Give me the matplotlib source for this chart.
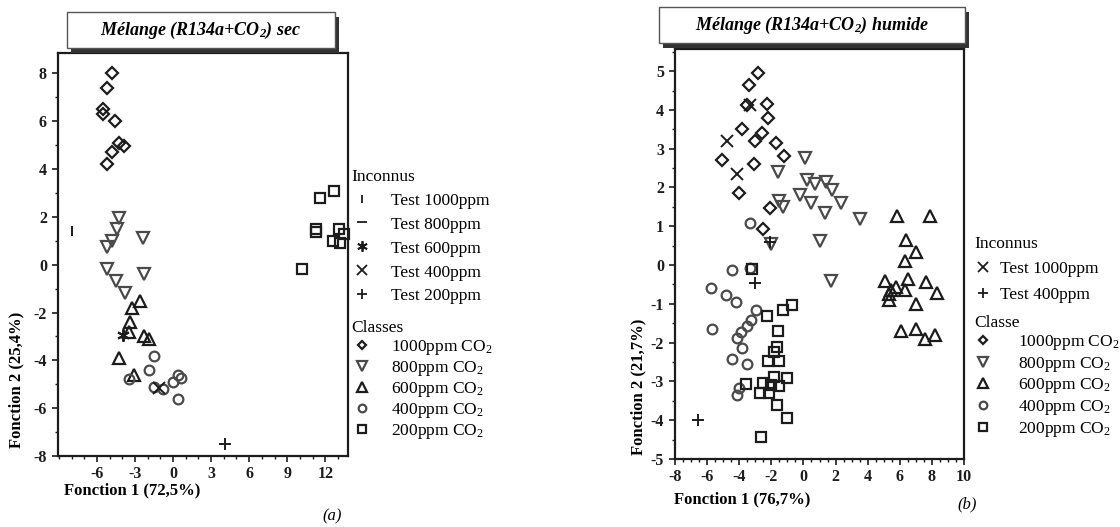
import matplotlib
matplotlib.use('Agg')
import matplotlib.pyplot as plt
from matplotlib.lines import Line2D
from matplotlib.patches import Rectangle
from matplotlib.ticker import MultipleLocator, FixedLocator

plt.rcParams['font.family'] = ['Liberation Serif', 'DejaVu Serif']
plt.rcParams['mathtext.fontset'] = 'custom'
plt.rcParams['mathtext.rm'] = 'Liberation Serif'
plt.rcParams['mathtext.it'] = 'Liberation Serif:italic'
plt.rcParams['mathtext.bf'] = 'Liberation Serif:bold'
plt.rcParams['axes.unicode_minus'] = False

# ---- (a) dry mixture ----
sec_1000_x = [-4.8, -5.2, -5.5, -5.5, -4.6, -4.3, -3.9, -4.8, -5.2]
sec_1000_y = [8.0, 7.4, 6.5, 6.3, 6.0, 5.1, 4.95, 4.7, 4.2]
sec_800_x = [-4.3, -4.4, -4.8, -5.2, -2.4, -5.2, -4.5, -3.8, -2.3]
sec_800_y = [1.95, 1.5, 1.0, 0.75, 1.1, -0.2, -0.7, -1.2, -0.4]
sec_600_x = [-2.6, -3.2, -3.4, -3.5, -2.3, -1.9, -4.3, -3.1]
sec_600_y = [-1.5, -1.8, -2.4, -2.8, -3.0, -3.1, -3.9, -4.6]
sec_400_x = [-1.5, -1.9, -3.5, -1.5, -0.8, 0.0, 0.4, 0.6, 0.4]
sec_400_y = [-3.8, -4.4, -4.8, -5.1, -5.2, -4.9, -4.6, -4.75, -5.6]
sec_200_x = [11.6, 12.7, 11.3, 11.3, 13.1, 13.5, 12.6, 13.2, 10.2]
sec_200_y = [2.8, 3.1, 1.5, 1.35, 1.5, 1.3, 1.0, 0.9, -0.2]
sec_test1000 = ([-7.95], [1.4])
sec_test800 = ([], [])
sec_test600 = ([-3.95], [-2.95])
sec_test400 = ([-1.1], [-5.15])
sec_test200 = ([4.1], [-7.5])
sec_xticks = [-6, -3, 0, 3, 6, 9, 12]

# ---- (b) humid mixture ----
hum_1000_x = [-2.85, -3.4, -3.5, -2.3, -2.2, -3.8, -2.6, -3.0, -1.7, -1.2, -5.05, -3.1, -4.0, -2.1, -2.5]
hum_1000_y = [4.95, 4.64, 4.12, 4.15, 3.8, 3.5, 3.4, 3.2, 3.15, 2.8, 2.7, 2.6, 1.85, 1.47, 0.92]
hum_800_x = [0.1, -1.6, 0.2, 0.75, 1.4, 1.8, 2.35, -0.2, 0.5, 1.35, 3.5, -1.55, -1.3, -2.0, 1.0, 1.7]
hum_800_y = [2.75, 2.4, 2.2, 2.1, 2.13, 1.93, 1.6, 1.8, 1.6, 1.35, 1.18, 1.66, 1.5, 0.54, 0.62, -0.41]
hum_600_x = [5.8, 7.9, 6.4, 7.0, 6.3, 5.1, 6.5, 5.45, 5.75, 6.35, 5.35, 7.65, 8.3, 5.35, 7.0, 6.05, 7.0, 7.6, 8.2]
hum_600_y = [1.27, 1.27, 0.64, 0.34, 0.1, -0.4, -0.37, -0.63, -0.57, -0.63, -0.74, -0.44, -0.72, -0.9, -1.0, -1.71, -1.64, -1.9, -1.81]
hum_400_x = [-3.3, -4.45, -5.75, -4.8, -4.2, -2.95, -3.25, -3.5, -3.9, -5.7, -4.15, -3.85, -4.45, -3.5, -4.0, -4.15, -3.3]
hum_400_y = [1.09, -0.13, -0.6, -0.78, -0.95, -1.17, -1.42, -1.58, -1.73, -1.66, -1.87, -2.14, -2.42, -2.56, -3.16, -3.34, -0.07]
hum_200_x = [-3.2, -2.3, -1.25, -0.7, -1.6, -1.65, -1.85, -2.2, -1.55, -3.6, -2.55, -1.85, -1.0, -1.5, -2.7, -2.15, -2.0, -1.65, -1.05, -2.65]
hum_200_y = [-0.11, -1.32, -1.15, -1.04, -1.71, -2.1, -2.23, -2.47, -2.47, -3.06, -3.03, -2.88, -2.9, -3.13, -3.3, -3.3, -3.1, -3.62, -3.95, -4.43]
hum_test1000 = ([-4.75, -4.15, -3.3], [3.2, 2.36, 4.12])
hum_test400 = ([-3.0, -6.55, -2.1], [-0.47, -3.99, 0.6])

DARK = '#1c1c1c'
GREY = '#4a4a4a'

asterisk = (6, 2, 0)

class_style = {
    '1000': dict(marker='D', ms=6, color=DARK),
    '800': dict(marker='v', ms=8, color=GREY),
    '600': dict(marker='^', ms=8, color=DARK),
    '400': dict(marker='o', ms=7, color=GREY),
    '200': dict(marker='s', ms=7, color=DARK),
}


def draw_classes(ax, series):
    handles = []
    for key, xs, ys in series:
        st = class_style[key]
        ax.plot(xs, ys, ls='none', marker=st['marker'], ms=st['ms'], mfc='none',
                mec=st['color'], mew=1.6, clip_on=False)
        handles.append(Line2D([], [], ls='none', marker=st['marker'], ms=st['ms'] - 1.5,
                              mfc='none', mec=st['color'], mew=1.6,
                              label=key + r'ppm CO$_\mathregular{2}$'))
    return handles


def style_axes(ax, xmin, ymaj, ymin):
    for s in ax.spines.values():
        s.set_linewidth(1.6)
        s.set_color(DARK)
    ax.xaxis.set_minor_locator(MultipleLocator(xmin))
    ax.yaxis.set_major_locator(MultipleLocator(ymaj))
    ax.yaxis.set_minor_locator(MultipleLocator(ymin))
    ax.tick_params(which='major', direction='out', length=4.5, width=1.2, labelsize=11.5, colors=DARK)
    ax.tick_params(which='minor', direction='out', length=2.5, width=1.0, colors=DARK)
    ax.tick_params(axis='x', which='major', pad=2.5)
    for lab in ax.get_xticklabels() + ax.get_yticklabels():
        lab.set_fontweight('bold')


def title_box(fig, x0, y0, w, h, text):
    fig.add_artist(Rectangle((x0 + 0.004, y0 - 0.009), w, h, transform=fig.transFigure,
                             facecolor='#333333', edgecolor='none'))
    fig.add_artist(Rectangle((x0, y0), w, h, transform=fig.transFigure,
                             facecolor='white', edgecolor='#555555', lw=1.0))
    fig.text(x0 + w / 2, y0 + h / 2, text, ha='center', va='center',
             fontsize=13, fontweight='bold', fontstyle='italic')


def group_legend(fig, handles, title, x, y, spacing, hlen, pad):
    leg = fig.legend(handles=handles, title=title, loc='upper left', bbox_to_anchor=(x, y),
                     frameon=False, fontsize=12.5, title_fontsize=12.5, borderpad=0,
                     borderaxespad=0, labelspacing=spacing, handlelength=hlen,
                     handletextpad=pad, alignment='left')
    return leg


fig = plt.figure(figsize=(11.2, 5.27), dpi=100)
fig.patch.set_facecolor('white')

# ---------- panel (a) ----------
ax1 = fig.add_axes([0.0518, 0.1347, 0.259, 0.7647])
ax1.set_xlim(-9.07, 13.8)
ax1.set_ylim(-8, 8.85)
ax1.xaxis.set_major_locator(FixedLocator(sec_xticks))
style_axes(ax1, 1, 2, 1)
cls1 = draw_classes(ax1, [('1000', sec_1000_x, sec_1000_y), ('800', sec_800_x, sec_800_y),
                          ('600', sec_600_x, sec_600_y), ('400', sec_400_x, sec_400_y),
                          ('200', sec_200_x, sec_200_y)])
unk1 = []
for (xs, ys), mk, lab, ms in [(sec_test1000, '|', 'Test 1000ppm', 7), (sec_test800, '_', 'Test 800ppm', 9),
                              (sec_test600, asterisk, 'Test 600ppm', 9), (sec_test400, 'x', 'Test 400ppm', 8),
                              (sec_test200, '+', 'Test 200ppm', 8)]:
    ax1.plot(xs, ys, ls='none', marker=mk, ms=ms, color=DARK, mew=1.4)
    unk1.append(Line2D([], [], ls='none', marker=mk, ms=ms - 1.5, color=DARK, mew=1.3, label=lab))
ax1.set_xlabel('Fonction 1 (72,5%)', fontsize=12, fontweight='bold')
ax1.set_ylabel('Fonction 2 (25,4%)', fontsize=12, fontweight='bold')
ax1.xaxis.set_label_coords(0.255, -0.066)
ax1.yaxis.set_label_coords(-0.115, 0.19)
title_box(fig, 0.0598, 0.9089, 0.239, 0.0683, r'Mélange (R134a+CO$_\mathregular{2}$) sec')
group_legend(fig, unk1, 'Inconnus', 0.3135, 0.680, 0.45, 1.3, 1.0)
group_legend(fig, cls1, 'Classes', 0.3135, 0.393, 0.12, 1.3, 1.0)
fig.text(0.288, 0.012, '(a)', fontsize=12, fontstyle='italic')

# ---------- panel (b) ----------
ax2 = fig.add_axes([0.6027, 0.129, 0.258, 0.778])
ax2.set_xlim(-8, 10)
ax2.set_ylim(-5, 5.57)
ax2.xaxis.set_major_locator(MultipleLocator(2))
style_axes(ax2, 0.5, 1, 0.5)
cls2 = draw_classes(ax2, [('1000', hum_1000_x, hum_1000_y), ('800', hum_800_x, hum_800_y),
                          ('600', hum_600_x, hum_600_y), ('400', hum_400_x, hum_400_y),
                          ('200', hum_200_x, hum_200_y)])
unk2 = []
for (xs, ys), mk, lab, ms in [(hum_test1000, 'x', 'Test 1000ppm', 8), (hum_test400, '+', 'Test 400ppm', 8)]:
    ax2.plot(xs, ys, ls='none', marker=mk, ms=ms, color=DARK, mew=1.4)
    unk2.append(Line2D([], [], ls='none', marker=mk, ms=ms - 1.5, color=DARK, mew=1.3, label=lab))
ax2.set_xlabel('Fonction 1 (76,7%)', fontsize=12, fontweight='bold')
ax2.set_ylabel('Fonction 2 (21,7%)', fontsize=12, fontweight='bold')
ax2.xaxis.set_label_coords(0.232, -0.08)
ax2.yaxis.set_label_coords(-0.10, 0.176)
title_box(fig, 0.5884, 0.918, 0.273, 0.0683, r'Mélange (R134a+CO$_\mathregular{2}$) humide')
group_legend(fig, unk2, 'Inconnus', 0.870, 0.553, 0.55, 1.0, 0.5)
group_legend(fig, cls2, 'Classe', 0.870, 0.403, 0.15, 1.0, 1.5)
fig.text(0.855, 0.035, '(b)', fontsize=12, fontstyle='italic')

fig.savefig('out.png', dpi=100, facecolor='white')
